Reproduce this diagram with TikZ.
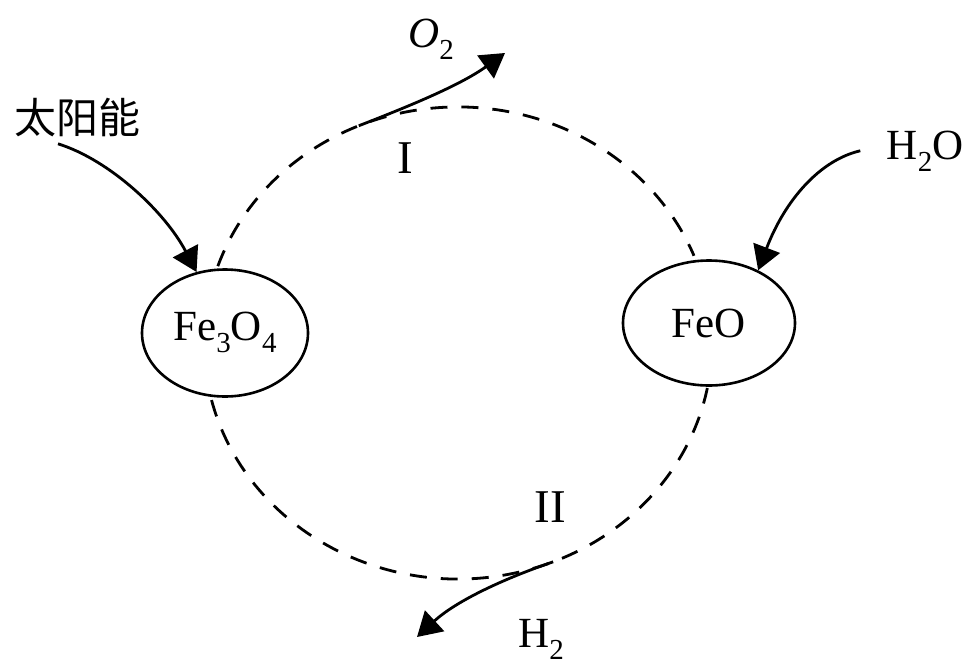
\documentclass[tikz,border=0pt]{standalone}
\usepackage{fontspec}
\setmainfont{Liberation Serif}
\newfontfamily\cjk{Noto Sans CJK SC}
\usetikzlibrary{arrows.meta,backgrounds,shapes.geometric}
\newcommand\subs[1]{\raisebox{-0.28em}{\fontsize{29}{29}\selectfont #1}}
\begin{document}
\begin{tikzpicture}[x=1pt,y=-1pt,line width=2.8pt,
  every node/.style={inner sep=0pt,font=\fontsize{43}{50}\selectfont},
  chem/.style={draw,ellipse,fill=white,line width=2.6pt,text height=29pt,text depth=15pt},
  ring/.style={dash pattern=on 17pt off 14pt,line width=2.8pt},
  arr/.style={-{Triangle[length=24pt,width=28pt]}},
  roman/.style={font=\fontsize{47}{50}\selectfont,anchor=base}]
\useasboundingbox (0,0) rectangle (964,664);
\coordinate (c) at (458,343);
% nodes
\node[chem,minimum width=166pt,minimum height=127pt] (fe3o4) at (225,333) {Fe\subs{3}O\subs{4}};
\node[chem,minimum width=172pt,minimum height=125pt,text depth=0pt] (feo) at (709,323) {FeO};
\node[anchor=center,font=\cjk\fontsize{42}{50}\selectfont] (sun) at (77,118) {太阳能};
\node[anchor=base] (h2o) at (925,159) {H\subs{2}O};
\node[anchor=base] (o2) at (431,47) {\textit{O}\subs{2}};
\node[anchor=base] (h2) at (541,647) {H\subs{2}};
\node[roman] (r1) at (405,173) {I};
\node[roman] (r2) at (550,522) {II};
% dashed cycle
\begin{scope}[on background layer]
\draw[ring] ([shift={(161:254pt and 236pt)}]c) arc[start angle=161,end angle=21.7,x radius=254pt,y radius=236pt];
\draw[ring] ([shift={(194:254pt and 236pt)}]c) arc[start angle=194,end angle=349,x radius=254pt,y radius=236pt];
\end{scope}
% product arrows
\coordinate (o2s) at ([shift={(113:254pt and 236pt)}]c);
\coordinate (o2e) at (505,53);
\coordinate (h2s) at ([shift={(-68:254pt and 236pt)}]c);
\coordinate (h2e) at (417,637);
\draw[arr] (o2s) .. controls (415,104) and (462,84) .. (o2e);
\draw[arr] (h2s) .. controls (500,580) and (455,602) .. (h2e);
% input arrows
\draw[arr] ([xshift=-19pt,yshift=-5pt]sun.south) .. controls (110,160) and (165,212) .. (fe3o4.115);
\draw[arr] ([xshift=-25pt]h2o.west) .. controls (820,160) and (785,200) .. (feo.47);
\end{tikzpicture}
\end{document}
